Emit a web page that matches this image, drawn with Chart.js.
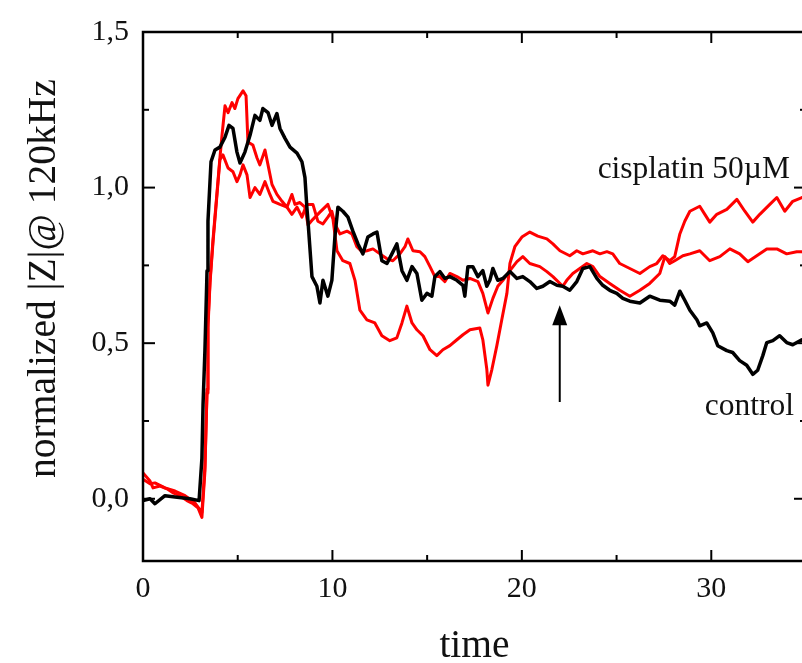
<!DOCTYPE html>
<html><head><meta charset="utf-8">
<script src="https://cdn.jsdelivr.net/npm/chart.js@4"></script>
<style>html,body{margin:0;padding:0;overflow:hidden;background:#fff}#wrap{width:830px;height:663px}</style>
</head><body><div id="wrap"><canvas id="c" width="830" height="663"></canvas></div>
<script>
// ---- data (time, normalized |Z|) ----
const control = [[0,-0.006],[0.37,0],[0.63,-0.016],[1.16,0.010],[1.69,0.006],[2.48,0],[2.96,-0.006],[3.11,0.130],[3.17,0.302],[3.27,0.479],[3.38,0.733],[3.43,0.892],[3.59,1.083],[3.80,1.121],[4.06,1.130],[4.33,1.162],[4.54,1.200],[4.75,1.190],[4.96,1.114],[5.12,1.079],[5.38,1.114],[5.65,1.168],[5.91,1.232],[6.17,1.216],[6.33,1.254],[6.60,1.241],[6.81,1.200],[7.07,1.238],[7.23,1.190],[7.49,1.159],[7.76,1.130],[8.13,1.111],[8.39,1.083],[8.55,1.032],[8.65,0.937],[8.71,0.892],[8.92,0.714],[9.18,0.683],[9.34,0.629],[9.50,0.702],[9.76,0.651],[9.97,0.702],[10.13,0.841],[10.29,0.937],[10.55,0.924],[10.82,0.905],[11.08,0.860],[11.35,0.819],[11.61,0.787],[11.87,0.841],[12.14,0.851],[12.35,0.857],[12.61,0.765],[12.88,0.756],[13.14,0.787],[13.40,0.819],[13.67,0.733],[13.93,0.702],[14.20,0.746],[14.46,0.724],[14.72,0.638],[14.99,0.660],[15.25,0.651],[15.41,0.714],[15.67,0.730],[15.94,0.708],[16.20,0.714],[16.57,0.702],[16.89,0.686],[16.99,0.651],[17.15,0.746],[17.41,0.746],[17.68,0.714],[17.94,0.733],[18.15,0.683],[18.31,0.702],[18.47,0.740],[18.73,0.702],[19.00,0.708],[19.37,0.730],[19.74,0.708],[20.05,0.714],[20.42,0.698],[20.79,0.676],[21.11,0.683],[21.48,0.698],[21.85,0.686],[22.16,0.683],[22.53,0.670],[22.90,0.698],[23.22,0.740],[23.59,0.746],[23.96,0.708],[24.27,0.686],[24.64,0.670],[25.01,0.660],[25.33,0.644],[25.70,0.635],[26.23,0.629],[26.75,0.651],[27.28,0.638],[27.81,0.635],[28.07,0.622],[28.34,0.667],[28.60,0.638],[28.87,0.606],[29.24,0.575],[29.39,0.556],[29.76,0.565],[30.08,0.533],[30.34,0.492],[30.82,0.476],[31.13,0.470],[31.50,0.444],[31.87,0.429],[32.19,0.400],[32.45,0.413],[32.72,0.460],[32.93,0.502],[33.25,0.508],[33.61,0.524],[33.98,0.502],[34.30,0.495],[34.78,0.511],[35,0.500]];
const cisplatinA = [[0,0.083],[0.37,0.057],[0.53,0.035],[0.90,0.041],[1.27,0.032],[1.58,0.019],[1.95,0.010],[2.32,-0.006],[2.64,-0.016],[2.90,-0.029],[3.11,-0.060],[3.27,0.089],[3.38,0.352],[3.43,0.565],[3.54,0.702],[3.69,0.829],[3.91,0.987],[4.06,1.095],[4.17,1.168],[4.33,1.263],[4.49,1.241],[4.70,1.273],[4.85,1.254],[5.01,1.286],[5.28,1.311],[5.44,1.295],[5.54,1.146],[5.80,1.137],[6.02,1.095],[6.17,1.073],[6.44,1.121],[6.60,1.073],[6.81,1.010],[7.07,0.978],[7.34,0.956],[7.60,0.937],[7.86,0.978],[8.02,0.946],[8.28,0.952],[8.55,0.937],[8.71,0.880],[8.97,0.898],[9.34,0.921],[9.76,0.946],[10.03,0.898],[10.24,0.797],[10.55,0.765],[10.92,0.756],[11.19,0.702],[11.45,0.606],[11.82,0.575],[12.24,0.565],[12.61,0.524],[13.03,0.508],[13.40,0.517],[13.67,0.565],[13.93,0.619],[14.20,0.565],[14.46,0.543],[14.78,0.524],[15.15,0.479],[15.51,0.460],[15.83,0.479],[16.20,0.492],[16.57,0.511],[16.89,0.527],[17.26,0.543],[17.78,0.549],[17.94,0.511],[18.15,0.416],[18.21,0.365],[18.42,0.416],[18.68,0.492],[18.94,0.575],[19.21,0.660],[19.37,0.756],[19.63,0.810],[20.00,0.841],[20.42,0.857],[20.84,0.844],[21.32,0.835],[21.64,0.819],[22.01,0.797],[22.53,0.781],[22.90,0.797],[23.22,0.787],[23.75,0.797],[24.12,0.787],[24.49,0.794],[24.80,0.787],[25.17,0.756],[25.70,0.740],[26.23,0.724],[26.75,0.746],[27.12,0.756],[27.44,0.781],[27.81,0.765],[28.07,0.778],[28.34,0.851],[28.60,0.892],[28.87,0.924],[29.39,0.940],[29.66,0.914],[29.92,0.889],[30.29,0.914],[30.82,0.930],[31.35,0.962],[31.77,0.924],[32.19,0.889],[32.56,0.914],[33.09,0.946],[33.46,0.968],[33.88,0.924],[34.30,0.956],[34.78,0.968],[35,0.970]];
const cisplatinB = [[0,0.063],[0.37,0.048],[0.63,0.051],[1.16,0.035],[1.69,0.025],[2.22,0.010],[2.74,-0.013],[3.11,-0.044],[3.27,0.105],[3.38,0.340],[3.43,0.550],[3.54,0.695],[3.69,0.820],[3.91,0.980],[4.06,1.090],[4.22,1.105],[4.49,1.063],[4.75,1.051],[4.96,1.019],[5.12,1.041],[5.28,1.073],[5.49,1.041],[5.65,0.968],[5.91,1.000],[6.17,0.978],[6.44,1.019],[6.70,0.978],[6.86,0.956],[7.23,0.946],[7.60,0.937],[7.86,0.914],[8.13,0.937],[8.39,0.905],[8.65,0.946],[8.97,0.946],[9.23,0.892],[9.50,0.883],[9.76,0.905],[9.97,0.924],[10.13,0.883],[10.40,0.851],[10.77,0.860],[11.03,0.851],[11.29,0.810],[11.56,0.794],[11.82,0.797],[12.14,0.803],[12.51,0.787],[12.88,0.771],[13.19,0.765],[13.56,0.787],[13.83,0.810],[13.98,0.835],[14.25,0.797],[14.62,0.794],[14.88,0.778],[15.15,0.746],[15.41,0.714],[15.67,0.714],[15.94,0.698],[16.20,0.724],[16.57,0.714],[16.89,0.702],[17.26,0.708],[17.68,0.698],[17.94,0.660],[18.21,0.597],[18.47,0.644],[18.73,0.683],[19.00,0.702],[19.37,0.733],[19.74,0.762],[20.05,0.778],[20.42,0.756],[20.95,0.746],[21.32,0.730],[21.64,0.714],[22.16,0.683],[22.37,0.702],[22.69,0.724],[23.06,0.740],[23.43,0.756],[23.75,0.746],[24.12,0.714],[24.64,0.692],[25.17,0.670],[25.70,0.651],[26.23,0.670],[26.75,0.692],[27.28,0.724],[27.55,0.778],[27.81,0.756],[28.07,0.765],[28.50,0.781],[28.87,0.787],[29.39,0.797],[29.92,0.765],[30.45,0.778],[30.98,0.803],[31.50,0.787],[31.93,0.762],[32.40,0.781],[32.93,0.803],[33.46,0.803],[33.98,0.787],[34.51,0.794],[34.78,0.794],[35,0.790]];

// ---- axes / ticks ----
const xRange = [0, 35];
const yRange = [-0.2, 1.5];
const xMajorTicks = [0, 10, 20, 30];
const xMinorTicks = [5, 15, 25, 35];
const yMajorTicks = [0, 0.5, 1.0, 1.5];
const yMinorTicks = [0.25, 0.75, 1.25];
const xTitle = 'time';
const yTitle = 'normalized |Z|@ 120kHz';

// ---- annotations (data coordinates) ----
const labelTexts = ['cisplatin 50\u00B5M', 'control'];
const labelAnchorsT = [24.0, 29.66];
const labelAnchorsV = [1.032, 0.270];
const arrowT = 22.0;
const arrowFromV = 0.311;
const arrowToV = 0.622;

const SERIF = '"Liberation Serif","Times New Roman",serif';
const toXY = arr => arr.map(p => ({x: p[0], y: p[1]}));

const decoPlugin = {
  id: 'deco',
  afterDraw(chart) {
    const {ctx, chartArea: {left, right, top, bottom}, scales: {x, y}} = chart;
    ctx.save();
    ctx.strokeStyle = '#000';
    ctx.lineCap = 'butt';
    ctx.lineWidth = 2.5;
    ctx.strokeRect(left, top, right - left, bottom - top);
    ctx.lineWidth = 2;
    const seg = (x1, y1, x2, y2) => { ctx.beginPath(); ctx.moveTo(x1, y1); ctx.lineTo(x2, y2); ctx.stroke(); };
    xMajorTicks.forEach(v => { const p = x.getPixelForValue(v); seg(p, bottom, p, bottom - 11); seg(p, top, p, top + 11); });
    xMinorTicks.forEach(v => { const p = x.getPixelForValue(v); seg(p, bottom, p, bottom - 6); seg(p, top, p, top + 6); });
    yMajorTicks.forEach(v => { const p = y.getPixelForValue(v); seg(left, p, left + 12, p); seg(right, p, right - 12, p); });
    yMinorTicks.forEach(v => { const p = y.getPixelForValue(v); seg(left, p, left + 6, p); seg(right, p, right - 6, p); });
    const ax = x.getPixelForValue(arrowT), ay0 = y.getPixelForValue(arrowFromV), ay1 = y.getPixelForValue(arrowToV);
    ctx.lineWidth = 2;
    seg(ax, ay0, ax, ay1 + 18);
    ctx.fillStyle = '#000';
    ctx.beginPath(); ctx.moveTo(ax, ay1); ctx.lineTo(ax - 7.5, ay1 + 20); ctx.lineTo(ax + 7.5, ay1 + 20); ctx.closePath(); ctx.fill();
    ctx.fillStyle = '#111';
    ctx.font = '31.5px ' + SERIF;
    ctx.textAlign = 'left'; ctx.textBaseline = 'alphabetic';
    labelTexts.forEach((t, i) => ctx.fillText(t, x.getPixelForValue(labelAnchorsT[i]), y.getPixelForValue(labelAnchorsV[i])));
    ctx.font = '39.5px ' + SERIF;
    ctx.textAlign = 'center';
    ctx.fillText(xTitle, (left + right) / 2, 657);
    ctx.save();
    ctx.translate(55, 478);
    ctx.rotate(-Math.PI / 2);
    ctx.textAlign = 'left';
    ctx.fillText(yTitle, 0, 0);
    ctx.restore();
    ctx.restore();
  }
};

const commonTicksFont = {family: SERIF, size: 30};

new Chart(document.getElementById('c'), {
  type: 'line',
  data: {
    datasets: [
      {label: 'control', data: toXY(control), borderColor: '#000', borderWidth: 3.5},
      {label: 'cisplatin A', data: toXY(cisplatinA), borderColor: '#ff0000', borderWidth: 3},
      {label: 'cisplatin B', data: toXY(cisplatinB), borderColor: '#ff0000', borderWidth: 3}
    ]
  },
  options: {
    responsive: false,
    animation: false,
    devicePixelRatio: 1,
    layout: {padding: {top: 25, right: 24, bottom: 0, left: 0}},
    elements: {point: {radius: 0}, line: {tension: 0, borderJoinStyle: 'round', fill: false}},
    plugins: {legend: {display: false}, tooltip: {enabled: false}},
    scales: {
      x: {
        type: 'linear', min: xRange[0], max: xRange[1],
        grid: {display: false, drawTicks: false},
        border: {display: false},
        afterFit: s => { s.height = 102; },
        afterBuildTicks: s => { s.ticks = xMajorTicks.map(v => ({value: v})); },
        ticks: {font: commonTicksFont, color: '#111', padding: 10, maxRotation: 0, callback: v => String(v)}
      },
      y: {
        type: 'linear', min: yRange[0], max: yRange[1],
        grid: {display: false, drawTicks: false},
        border: {display: false},
        afterFit: s => { s.width = 143; },
        afterBuildTicks: s => { s.ticks = yMajorTicks.map(v => ({value: v})); },
        ticks: {font: commonTicksFont, color: '#111', padding: 14, callback: v => Number(v).toFixed(1).replace('.', ',')}
      }
    }
  },
  plugins: [decoPlugin]
});
</script>
</body></html>
